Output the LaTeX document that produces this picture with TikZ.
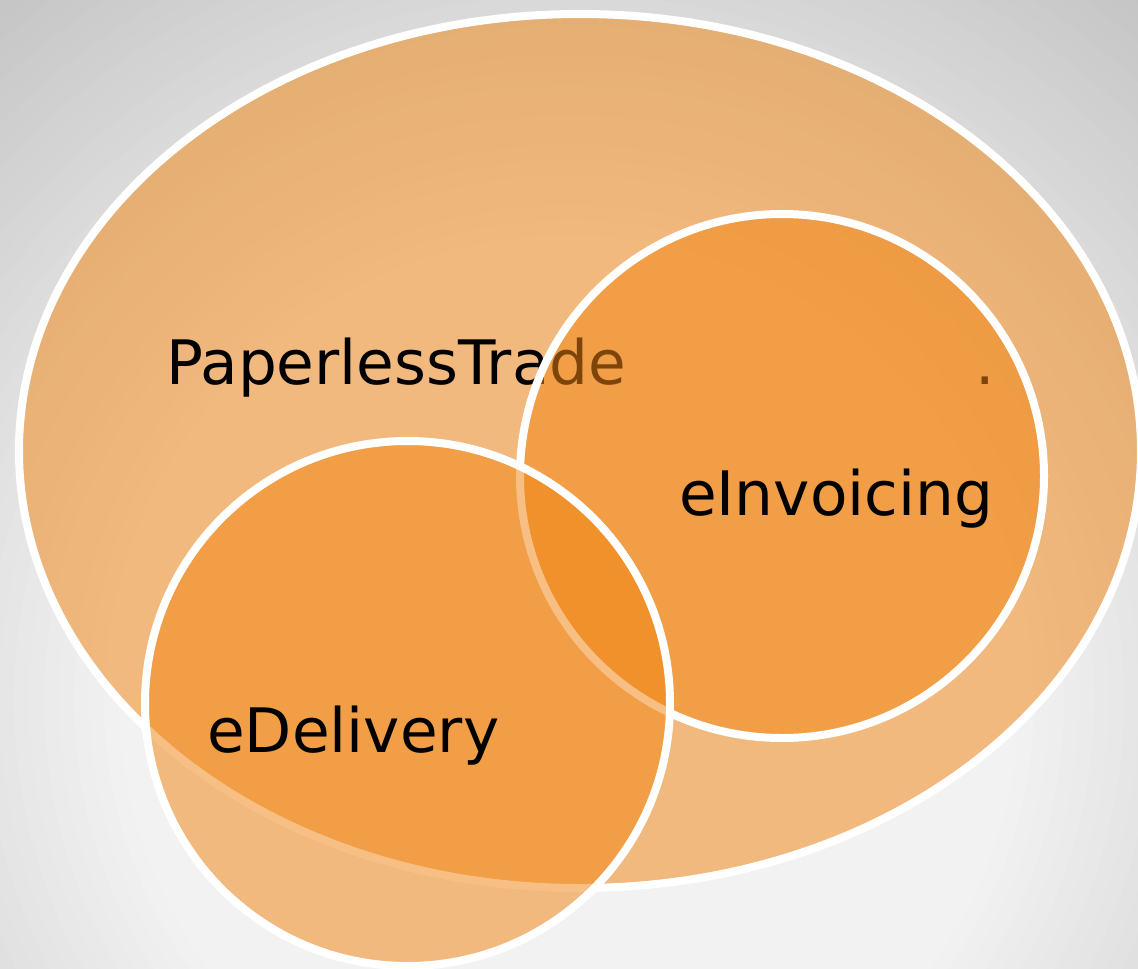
\documentclass[tikz,border=0pt]{standalone}
\usepackage{fontspec}
\setmainfont{DejaVu Sans}
\definecolor{orangefill}{RGB}{241,134,20}
\tikzset{
  venn/.style={fill=orangefill, fill opacity=0.52, draw=white, line width=8pt},
  lbl/.style={anchor=base west, inner sep=0pt, font=\fontsize{61.3}{72}\selectfont, text=black}
}
\begin{document}
\begin{tikzpicture}[x=1pt,y=-1pt]
\useasboundingbox (0,0) rectangle (1138,969);
\clip (0,0) rectangle (1138,969);
% background: radial gray gradient (lighter towards lower centre)
\foreach \r in {930,915,...,450} {
  \pgfmathtruncatemacro{\g}{max(196,min(242,242-(\r-457)*0.099))}
  \definecolor{bgstep}{RGB}{\g,\g,\g}
  \fill[bgstep] (569,700) circle [radius=\r pt];
}
% big ellipse
\draw[venn] (580,451) ellipse [x radius=561pt, y radius=437pt];
\node[lbl] (pt) at (166,384) {PaperlessTrade};
\node[lbl] (dot) at (975,384) {.};
% eInvoicing circle
\draw[venn] (782,476) circle [radius=262pt];
\node[lbl] (inv) at (679,515) {eInvoicing};
% eDelivery circle
\draw[venn] (407.5,703.5) circle [radius=262.5pt];
\node[lbl] (del) at (207,752) {eDelivery};
\end{tikzpicture}
\end{document}
